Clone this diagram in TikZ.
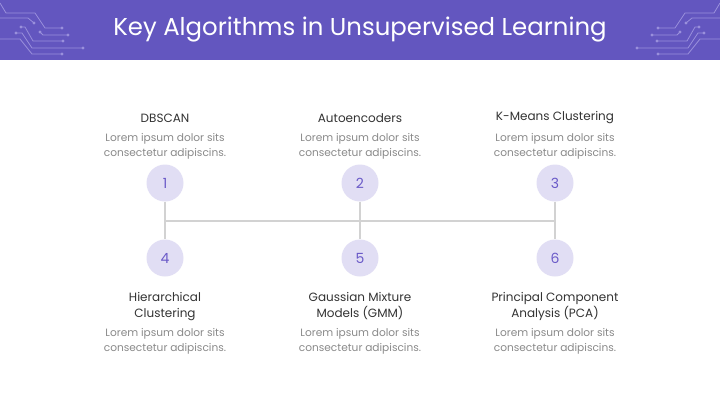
\documentclass[tikz,border=0pt]{standalone}
\usepackage{fontspec}
\setmainfont{Poppins}
\definecolor{hdr}{HTML}{6356BF}
\definecolor{circfill}{HTML}{E1DEF4}
\definecolor{numc}{HTML}{6A5AC8}
\definecolor{linec}{HTML}{D2D2D2}
\definecolor{titlec}{HTML}{333333}
\definecolor{descc}{HTML}{8A8A8A}
\definecolor{wire}{HTML}{9A90DC}
\begin{document}
\begin{tikzpicture}[x=1pt,y=-1pt,
  maintitle/.style={text=white,font=\fontsize{24.4}{28}\selectfont,inner sep=0pt},
  numcirc/.style={circle,fill=circfill,minimum size=37pt,inner sep=0pt,text=numc,font=\fontsize{14}{16}\selectfont},
  itemtitle/.style={text=titlec,font=\fontsize{12}{16}\selectfont,align=center,inner sep=0pt},
  itemdesc/.style={text=descc,font=\fontsize{10.6}{15}\selectfont,align=center,inner sep=0pt},
  conn/.style={draw=linec,line width=1.8pt},
  wirepath/.style={draw=wire,line width=0.8pt},
  wiredot/.style={fill=wire}
]
\useasboundingbox (0,0) rectangle (720,405);
\fill[white] (0,0) rectangle (720,405);
\fill[hdr] (0,0) rectangle (720,60);
\node[maintitle] (ttl) at (360,30) {Key Algorithms in Unsupervised Learning};

% circuit decoration
\foreach \mir/\off in {1/0,-1/720}{
\begin{scope}[xshift=\off pt, xscale=\mir]
\draw[wirepath] (0,3)--(6,13)--(35,13)--(45,28)--(62,28);
\fill[wiredot] (62,28) circle (1.6);
\draw[wirepath] (0,18)--(28,18)--(34,23);
\fill[wiredot] (34,23) circle (1.6);
\draw[wirepath] (21,27)--(25,27)--(33,41)--(63,41);
\fill[wiredot] (21,27) circle (1.6);
\fill[wiredot] (63,41) circle (1.6);
\draw[wirepath] (40,32)--(43,35)--(68,35);
\fill[wiredot] (40,32) circle (1.6);
\fill[wiredot] (68,35) circle (1.6);
\draw[wirepath] (16,33)--(22,33)--(32,48)--(83,48);
\fill[wiredot] (16,33) circle (1.6);
\fill[wiredot] (83,48) circle (1.6);
\draw[wirepath] (0,39)--(20,39)--(32,54)--(62,54);
\fill[wiredot] (62,54) circle (1.6);
\end{scope}
}

% junction line
\coordinate (jl) at (165,221);
\coordinate (jr) at (555,221);
\draw[conn] (jl) -- (jr);

% circles
\node[numcirc] (c1) at (165,183) {1};
\node[numcirc] (c2) at (360,183) {2};
\node[numcirc] (c3) at (555,183) {3};
\node[numcirc] (c4) at (165,258) {4};
\node[numcirc] (c5) at (360,258) {5};
\node[numcirc] (c6) at (555,258) {6};

\draw[conn] (c1.south) -- (c4.north);
\draw[conn] (c2.south) -- (c5.north);
\draw[conn] (c3.south) -- (c6.north);

% top texts
\node[itemtitle] (t1) at (165,118) {DBSCAN};
\node[itemtitle] (t2) at (360,118) {Autoencoders};
\node[itemtitle] (t3) at (555,118) {K-Means Clustering};
\node[itemdesc] (d1) at (165,146.5) {Lorem ipsum dolor sits\\consectetur adipiscins.};
\node[itemdesc] (d2) at (360,146.5) {Lorem ipsum dolor sits\\consectetur adipiscins.};
\node[itemdesc] (d3) at (555,146.5) {Lorem ipsum dolor sits\\consectetur adipiscins.};

% bottom texts
\node[itemtitle] (t4) at (165,306.5) {Hierarchical\\Clustering};
\node[itemtitle] (t5) at (360,306.5) {Gaussian Mixture\\Models (GMM)};
\node[itemtitle] (t6) at (555,306.5) {Principal Component\\Analysis (PCA)};
\node[itemdesc] (d4) at (165,341.5) {Lorem ipsum dolor sits\\consectetur adipiscins.};
\node[itemdesc] (d5) at (360,341.5) {Lorem ipsum dolor sits\\consectetur adipiscins.};
\node[itemdesc] (d6) at (555,341.5) {Lorem ipsum dolor sits\\consectetur adipiscins.};
\end{tikzpicture}
\end{document}
